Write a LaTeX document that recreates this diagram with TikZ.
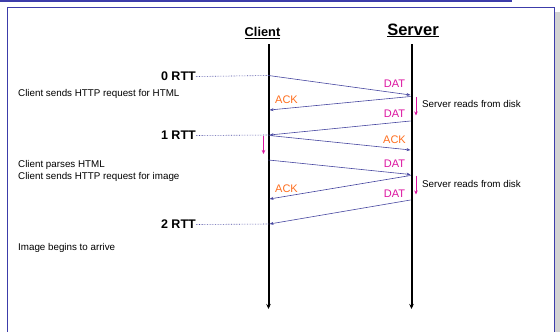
\documentclass[tikz,border=0pt]{standalone}
\usepackage{fontspec}
\setmainfont{Liberation Sans}
\usetikzlibrary{arrows.meta}
\definecolor{frameblue}{RGB}{60,60,170}
\definecolor{msgblue}{RGB}{70,70,160}
\definecolor{datmag}{RGB}{220,20,160}
\definecolor{ackorg}{RGB}{255,110,30}
\tikzset{
  msg/.style={draw=msgblue, line width=0.6pt, -{Stealth[length=4pt,width=3pt]}},
  rttline/.style={draw=msgblue, line width=0.6pt, densely dotted},
  life/.style={draw=black, line width=2pt, -{Stealth[length=5pt,width=4.5pt]}},
  proc/.style={draw=datmag, line width=0.8pt, -{Stealth[length=4pt,width=3.5pt]}},
  datlbl/.style={text=datmag, font=\fontsize{11}{12}\selectfont, inner sep=0pt},
  acklbl/.style={text=ackorg, font=\fontsize{11}{12}\selectfont, inner sep=0pt},
  rttlbl/.style={font=\bfseries\fontsize{12.5}{13}\selectfont, inner sep=0pt, anchor=east},
  note/.style={font=\fontsize{9.8}{11}\selectfont, inner sep=0pt, anchor=west},
}
\begin{document}
\begin{tikzpicture}[x=1pt,y=-1pt]
\useasboundingbox (0,0) rectangle (560,332);
% header line and frame
\coordinate (hl) at (0,1.2);
\coordinate (hr) at (512,1.2);
\draw[frameblue, line width=2pt] (hl) -- (hr);
\fill[gray!35] (555,12) rectangle (560,332);
\draw[frameblue, line width=1pt] (7.5,340) -- (7.5,7.2) -- (554,7.2) -- (554,340);
% titles
\node[font=\bfseries\fontsize{12.8}{14}\selectfont, inner sep=0pt, anchor=base] (client) at (262.5,36.5) {\underline{Client}};
\node[font=\bfseries\fontsize{16.5}{18}\selectfont, inner sep=0pt, anchor=base] (server) at (413,35) {\underline{Server}};
% lifelines
\coordinate (ct) at (268.5,44);
\coordinate (cb) at (268.5,309);
\coordinate (st) at (411.5,44);
\coordinate (sb) at (411.5,309);
\draw[life] (ct) -- (cb);
\draw[life] (st) -- (sb);
% message points
\coordinate (c1) at (268.5,75.5);  \coordinate (s1) at (410.5,95);
\coordinate (s2) at (410.5,96.5);  \coordinate (c2) at (269.5,110);
\coordinate (s3) at (410.5,121);   \coordinate (c3) at (269.5,135);
\coordinate (c4) at (269.5,135.5); \coordinate (s4) at (410.5,150);
\coordinate (c5) at (268.5,160);   \coordinate (s5) at (410.5,174.5);
\coordinate (s6) at (410.5,175.5); \coordinate (c6) at (269.5,199);
\coordinate (s7) at (410.5,200);   \coordinate (c7) at (269.5,224);
\draw[msg] (c1) -- (s1);
\draw[msg] (s2) -- (c2);
\draw[msg] (s3) -- (c3);
\draw[msg] (c4) -- (s4);
\draw[msg] (c5) -- (s5);
\draw[msg] (s6) -- (c6);
\draw[msg] (s7) -- (c7);
% labels
\node[datlbl] (d1) at (394.5,84) {DAT};
\node[acklbl] (a1) at (286.5,100) {ACK};
\node[datlbl] (d2) at (394.5,114) {DAT};
\node[acklbl] (a2) at (394.5,139.5) {ACK};
\node[datlbl] (d3) at (394.5,164) {DAT};
\node[acklbl] (a3) at (286.5,189) {ACK};
\node[datlbl] (d4) at (394.5,193.5) {DAT};
% RTT labels
\node[rttlbl] (r0) at (196,76.5) {0 RTT};
\node[rttlbl] (r1) at (196,135.5) {1 RTT};
\node[rttlbl] (r2) at (196,224.5) {2 RTT};
\draw[rttline] (r0.east) -- (c1);
\draw[rttline] (r1.east) -- (c3);
\draw[rttline] (r2.east) -- (c7);
% processing arrows
\coordinate (p1a) at (416,97);  \coordinate (p1b) at (416,115.5);
\coordinate (p2a) at (416,175.5); \coordinate (p2b) at (416,194.5);
\coordinate (p3a) at (263.5,136); \coordinate (p3b) at (263.5,154);
\draw[proc] (p1a) -- (p1b);
\draw[proc] (p2a) -- (p2b);
\draw[proc] (p3a) -- (p3b);
% notes
\node[note] (n1) at (18,94) {Client sends HTTP request for HTML};
\node[note] (n2) at (422,104) {Server reads from disk};
\node[note] (n3) at (18,164.5) {Client parses HTML};
\node[note] (n4) at (18,177) {Client sends HTTP request for image};
\node[note] (n5) at (422,184) {Server reads from disk};
\node[note] (n6) at (18,248) {Image begins to arrive};
\end{tikzpicture}
\end{document}
